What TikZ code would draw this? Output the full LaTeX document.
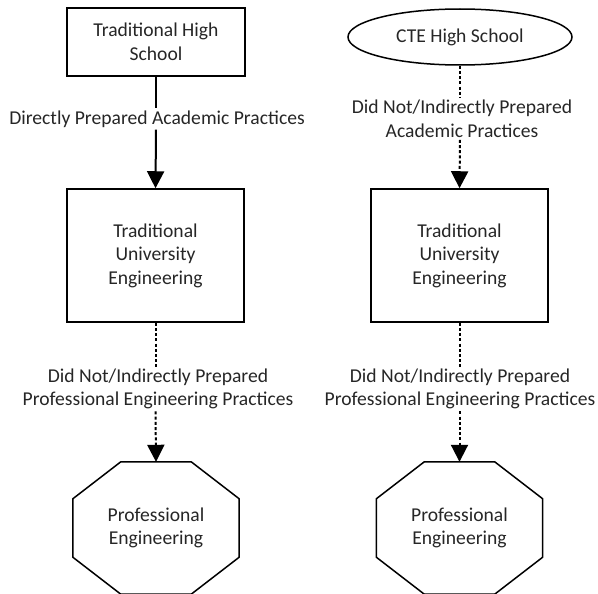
\documentclass[tikz,border=0pt]{standalone}
\usepackage{fontspec}
\setmainfont{Carlito}
\usetikzlibrary{arrows.meta,shapes.geometric,calc}
\tikzset{
  txt/.style={font=\fontsize{19.6pt}{23.5pt}\selectfont, text=black!85, align=center},
  boxnode/.style={txt, draw, line width=1.5pt, minimum width=177pt, minimum height=133pt, inner sep=0pt},
  topbox/.style={txt, draw, line width=1.5pt, minimum width=178pt, minimum height=68pt, inner sep=0pt},
  ovalnode/.style={txt, draw, ellipse, line width=1.5pt, minimum width=224pt, minimum height=56pt, inner sep=0pt},
  octnode/.style={txt, minimum width=166pt, minimum height=132pt, inner sep=0pt},
  lbl/.style={txt, inner sep=2pt},
  solidcon/.style={line width=2pt},
  dotcon/.style={line width=2pt, dash pattern=on 3pt off 2.2pt},
  tip/.style={-{Triangle[width=17pt,length=17pt]}}
}
\begin{document}
\begin{tikzpicture}[x=1pt,y=-1pt]
\useasboundingbox (0,0) rectangle (598,594);
% top
\node[topbox] (ths) at (156,42) {Traditional High\\School};
\node[ovalnode] (cte) at (460,37) {CTE High School};
% middle
\node[boxnode] (tue1) at (155.5,255.5) {Traditional\\University\\Engineering};
\node[boxnode] (tue2) at (459.5,255.5) {Traditional\\University\\Engineering};
% bottom
\node[octnode] (pe1) at (156,528) {Professional\\Engineering};
\node[octnode] (pe2) at (459.5,528) {Professional\\Engineering};
\foreach \n in {pe1,pe2}{
  \draw[line width=1.5pt]
    ($(\n.north west)+(48,0)$) -- ($(\n.north east)+(-48,0)$) --
    ($(\n.north east)+(0,37)$) -- ($(\n.south east)+(0,-37)$) --
    ($(\n.south east)+(-48,0)$) -- ($(\n.south west)+(48,0)$) --
    ($(\n.south west)+(0,-37)$) -- ($(\n.north west)+(0,37)$) -- cycle;
}
% labels
\node[lbl] (l1) at (157,119) {Directly Prepared Academic Practices};
\node[lbl] (l2) at (462,119) {Did Not/Indirectly Prepared\\Academic Practices};
\node[lbl] (l3) at (158,389) {Did Not/Indirectly Prepared\\Professional Engineering Practices};
\node[lbl] (l4) at (460,389) {Did Not/Indirectly Prepared\\Professional Engineering Practices};
% connectors
\draw[solidcon] (ths.south) -- (ths.south |- l1.north);
\draw[solidcon,tip] (ths.south |- l1.south) -- (tue1.north);
\draw[dotcon] (cte.south) -- (cte.south |- l2.north);
\draw[dotcon,tip] (cte.south |- l2.south) -- (tue2.north);
\draw[dotcon] (tue1.south) -- (tue1.south |- l3.north);
\draw[dotcon,tip] (tue1.south |- l3.south) -- (pe1.north);
\draw[dotcon] (tue2.south) -- (tue2.south |- l4.north);
\draw[dotcon,tip] (tue2.south |- l4.south) -- (pe2.north);
\end{tikzpicture}
\end{document}
